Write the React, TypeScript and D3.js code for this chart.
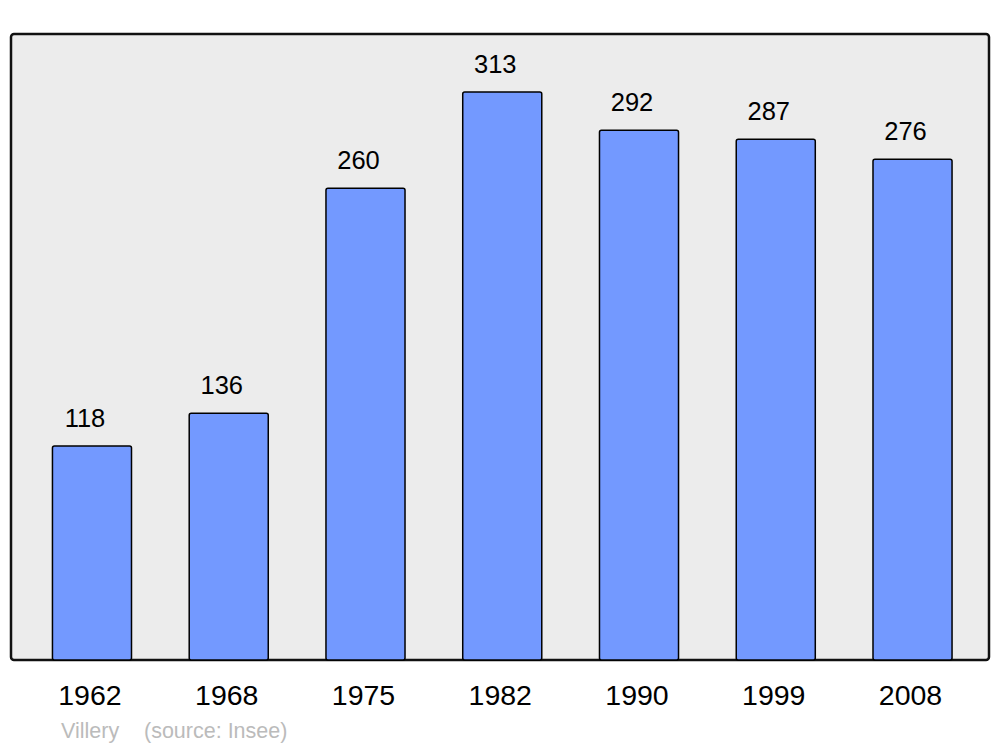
import * as d3 from 'd3'

const years = ['1962', '1968', '1975', '1982', '1990', '1999', '2008']
const population = [118, 136, 260, 313, 292, 287, 276]
const place = 'Villery'
const source = '(source: Insee)'

const App = () => {
  const width = 1000
  const height = 747
  const panel = { x: 11, y: 34, w: 978, h: 626 }
  const font = 'Liberation Sans, Arial, sans-serif'

  const x = d3
    .scaleBand()
    .domain(years)
    .range([23.6, 980.9])
    .paddingInner(0.422)
    .paddingOuter(0.211)

  const y = d3
    .scaleLinear()
    .domain([0, 345])
    .range([panel.y + panel.h, panel.y])

  return (
    <svg
      width={width}
      height={height}
      style={{ position: 'absolute', left: 0, top: 0, background: '#fff' }}
    >
      <rect
        x={panel.x}
        y={panel.y}
        width={panel.w}
        height={panel.h}
        rx={3}
        fill="#ececec"
        stroke="#111"
        strokeWidth={2.5}
      />
      {years.map((yr, i) => {
        const bx = x(yr) ?? 0
        const cx = bx + x.bandwidth() / 2
        const top = y(population[i])
        return (
          <g key={yr}>
            <rect
              x={bx}
              y={top}
              width={x.bandwidth()}
              height={y(0) - top}
              rx={2}
              fill="#7399ff"
              stroke="#000"
              strokeWidth={1.5}
            />
            <text
              x={cx - 7}
              y={top - 19}
              textAnchor="middle"
              fontFamily={font}
              fontSize={25.5}
              fill="#000"
            >
              {population[i]}
            </text>
            <text
              x={cx - 2}
              y={705}
              textAnchor="middle"
              fontFamily={font}
              fontSize={28.5}
              fill="#000"
            >
              {yr}
            </text>
          </g>
        )
      })}
      <text x={61} y={738} fontFamily={font} fontSize={21.5} fill="#bbb">
        {place}
      </text>
      <text x={144} y={738} fontFamily={font} fontSize={21.5} fill="#bbb">
        {source}
      </text>
    </svg>
  )
}

export default App
